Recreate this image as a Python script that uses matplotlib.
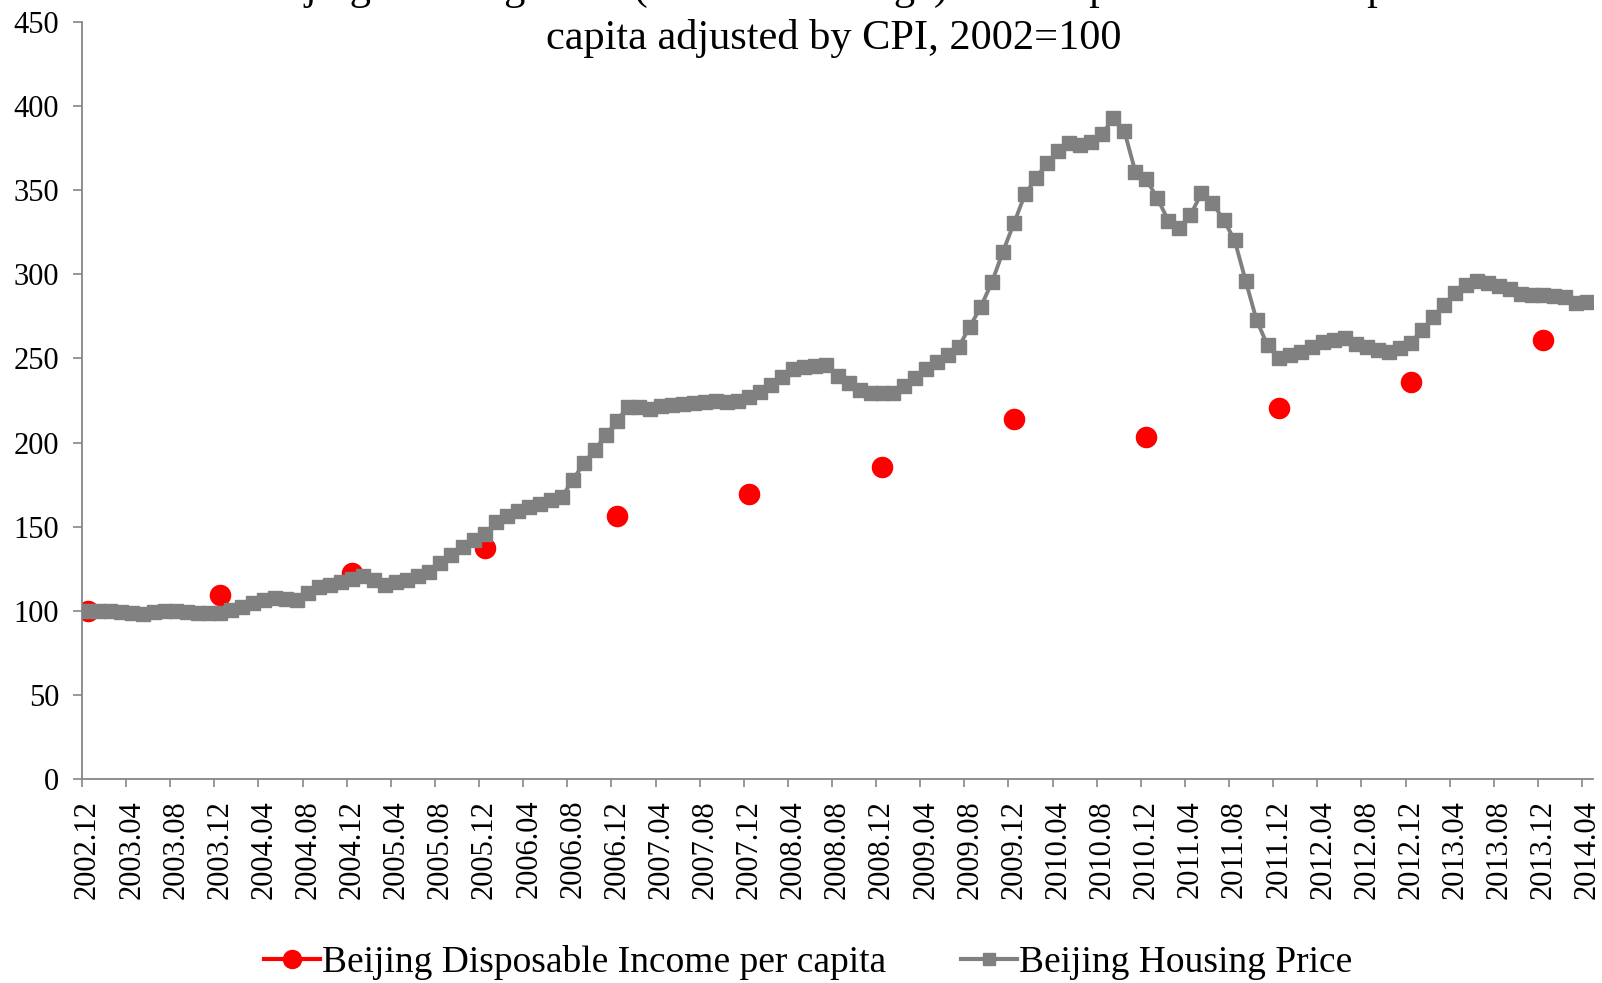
import matplotlib
matplotlib.use("Agg")
import matplotlib.pyplot as plt
from matplotlib.lines import Line2D
from matplotlib.ticker import FixedLocator

plt.rcParams["font.family"] = ["Liberation Serif", "DejaVu Serif"]

# monthly index, 2002.12 = month 0 ... 2014.04 = month 136
housing_price = [
    100.0, 99.6, 99.6, 99.4, 98.6, 98.2, 99.0, 99.6, 99.6, 99.0, 98.7, 98.7,
    98.9, 100.5, 102.5, 104.5, 106.5, 107.5, 107.0, 106.5, 110.8, 114.3, 115.3, 117.0,
    119.0, 120.5, 118.5, 115.5, 117.0, 118.3, 120.5, 123.2, 128.2, 133.2, 138.1, 142.1,
    145.5, 152.5, 156.5, 159.5, 161.5, 163.7, 165.9, 167.6, 177.8, 187.7, 195.8, 204.2,
    213.0, 221.3, 221.0, 219.8, 221.8, 222.4, 223.0, 223.7, 224.3, 224.7, 224.3, 224.9,
    227.3, 230.3, 234.2, 239.2, 243.6, 244.8, 245.5, 246.1, 239.6, 235.2, 231.3, 229.3,
    229.7, 229.3, 233.5, 238.5, 243.5, 248.1, 252.1, 257.0, 268.9, 280.8, 295.3, 313.5,
    330.4, 347.6, 357.1, 366.4, 373.4, 378.3, 376.9, 378.9, 383.3, 392.8, 385.4, 361.1,
    356.5, 345.2, 331.9, 327.4, 335.3, 348.2, 342.6, 332.3, 320.5, 296.3, 272.7, 257.7,
    250.1, 252.1, 254.0, 256.6, 260.0, 261.0, 262.0, 258.6, 256.6, 255.0, 254.0, 256.0,
    259.4, 266.9, 274.5, 281.8, 289.1, 293.7, 296.3, 295.1, 293.1, 291.1, 288.3, 287.7,
    287.7, 287.1, 286.3, 283.2, 283.7,
]

# December of each year, 2002..2013
income_months = [0, 12, 24, 36, 48, 60, 72, 84, 96, 108, 120, 132]
income = [100.0, 109.4, 122.5, 137.2, 156.2, 169.3, 185.5, 214.0, 203.5, 220.4, 235.8, 261.0]

tick_labels = [
    "2002.12", "2003.04", "2003.08", "2003.12", "2004.04", "2004.08", "2004.12",
    "2005.04", "2005.08", "2005.12", "2006.04", "2006.08", "2006.12", "2007.04",
    "2007.08", "2007.12", "2008.04", "2008.08", "2008.12", "2009.04", "2009.08",
    "2009.12", "2010.04", "2010.08", "2010.12", "2011.04", "2011.08", "2011.12",
    "2012.04", "2012.08", "2012.12", "2013.04", "2013.08", "2013.12", "2014.04",
]

fig = plt.figure(figsize=(16.02, 9.83), dpi=100)
ax = fig.add_axes([82 / 1602, 1 - 779 / 983, (1593 - 82) / 1602, (779 - 22) / 983])

months = list(range(len(housing_price)))
ax.plot(income_months, income, ls="none", marker="o", ms=14.5,
        color="#FF0000", mec="#FF0000", zorder=2)
ax.plot(months, housing_price, color="#808080", lw=2.8, marker="s", ms=9.5,
        mec="#808080", zorder=3)

ax.set_xlim(-0.5, len(housing_price) - 0.5)
ax.set_ylim(0, 450)
ax.set_yticks(range(0, 451, 50))

label_pos = [4 * i for i in range(len(tick_labels))]
ax.set_xticks(label_pos)
ax.set_xticklabels(tick_labels, rotation=90, fontsize=22)
ax.xaxis.set_minor_locator(FixedLocator([p - 0.5 for p in label_pos]))
ax.tick_params(axis="x", which="major", length=0, pad=15)
ax.tick_params(axis="x", which="minor", length=6, width=1.2, color="#868686")
ax.tick_params(axis="y", length=6.5, width=1.2, color="#868686", labelsize=22, pad=10)

for side in ("top", "right"):
    ax.spines[side].set_visible(False)
for side in ("left", "bottom"):
    ax.spines[side].set_color("#868686")
    ax.spines[side].set_linewidth(1.3)

fig.text(834 / 1602, 1 + 1 / 983,
         "Beijing Housing Price (3-month average) and Disposable Income per",
         ha="center", va="baseline", fontsize=30.5)
fig.text(834 / 1602, 1 - 49 / 983, "capita adjusted by CPI, 2002=100",
         ha="center", va="baseline", fontsize=30.5)

handles = [
    Line2D([], [], color="#FF0000", lw=3, marker="o", ms=13),
    Line2D([], [], color="#808080", lw=3, marker="s", ms=9),
]
fig.legend(handles, ["Beijing Disposable Income per capita", "Beijing Housing Price"],
           loc="center", bbox_to_anchor=(808 / 1602, 1 - 963 / 983), ncol=2,
           frameon=False, fontsize=27, handlelength=1.5, handletextpad=0.05,
           columnspacing=2.0)

fig.savefig("out.png", dpi=100)
